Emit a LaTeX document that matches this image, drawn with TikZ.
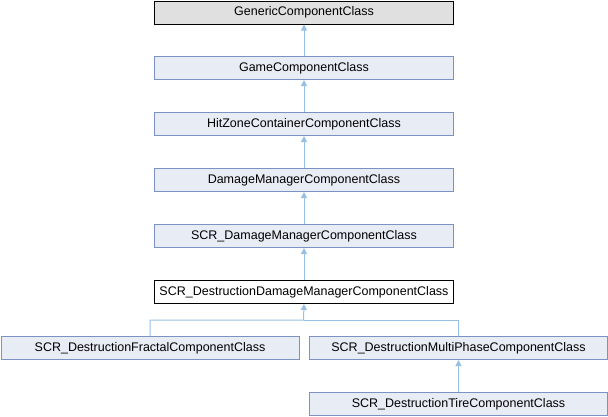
\documentclass[tikz,border=0pt]{standalone}
\usepackage{fontspec}
\setmainfont{Liberation Sans}
\usetikzlibrary{arrows.meta}
\definecolor{boxfill}{HTML}{E8ECF5}
\definecolor{boxline}{HTML}{7C92C2}
\definecolor{edgecol}{HTML}{98C0E2}
\definecolor{grayfill}{HTML}{E0E0E0}
\begin{document}
\begin{tikzpicture}[x=1pt,y=-1pt,
  cls/.style={draw=boxline,fill=boxfill,line width=1pt,minimum height=23pt,inner sep=0pt,font=\fontsize{12.5}{14}\selectfont,anchor=north west},
  edgeline/.style={draw=edgecol,line width=1pt},
  edge/.style={edgeline,-{Triangle[length=6pt,width=6pt,fill=edgecol]}}]
\useasboundingbox (0,0) rectangle (608,416);
\node[cls,draw=black,fill=grayfill,minimum width=299pt] (gen) at (154,0.5) {GenericComponentClass};
\node[cls,minimum width=299pt] (game) at (154,56) {GameComponentClass};
\node[cls,minimum width=299pt] (hit) at (154,112) {HitZoneContainerComponentClass};
\node[cls,minimum width=299pt] (dmg) at (154,168) {DamageManagerComponentClass};
\node[cls,minimum width=299pt] (scrdmg) at (154,224) {SCR\_DamageManagerComponentClass};
\node[cls,draw=black,fill=white,minimum width=299pt] (dest) at (154,280) {SCR\_DestructionDamageManagerComponentClass};
\node[cls,minimum width=298pt] (frac) at (0.5,336) {SCR\_DestructionFractalComponentClass};
\node[cls,minimum width=298pt] (multi) at (309,336) {SCR\_DestructionMultiPhaseComponentClass};
\node[cls,minimum width=298pt] (tire) at (309,392) {SCR\_DestructionTireComponentClass};
\draw[edge] (game) -- (gen);
\draw[edge] (hit) -- (game);
\draw[edge] (dmg) -- (hit);
\draw[edge] (scrdmg) -- (dmg);
\draw[edge] (dest) -- (scrdmg);
\coordinate (br) at (303.5,320);
\draw[edge] (frac.north) |- (br) -- (dest.south);
\draw[edgeline] (multi.north) |- (br);
\draw[edge] (tire) -- (multi);
\end{tikzpicture}
\end{document}
